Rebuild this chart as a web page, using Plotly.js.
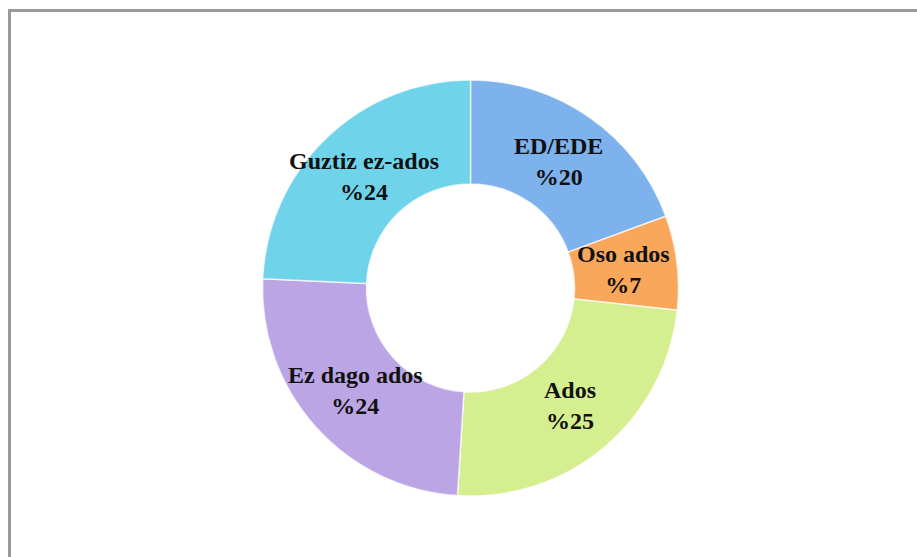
<!DOCTYPE html>
<html>
<head>
<meta charset="utf-8">
<script src="https://cdn.plot.ly/plotly-3.0.1.min.js"></script>
<style>html,body{margin:0;padding:0;background:#fff;}#chart{width:917px;height:557px;}</style>
</head>
<body>
<div id="chart"></div>
<script>
const categories = ["ED/EDE", "Oso ados", "Ados", "Ez dago ados", "Guztiz ez-ados"];
const values = [19.4, 7.3, 24.3, 24.7, 24.3];
const percentLabels = ["%20", "%7", "%25", "%24", "%24"];
const colors = ["#7db2ec", "#f9a75b", "#d5ee8f", "#bca5e4", "#6fd3ea"];

const W = 917, H = 557;
const cx = 470.5, cy = 288, R = 208, holeFrac = 0.5;
const domX = [(cx - R) / W, (cx + R) / W];
const domY = [(H - cy - R) / H, (H - cy + R) / H];

const trace = {
  type: "pie",
  labels: categories,
  values: values,
  hole: holeFrac,
  sort: false,
  direction: "clockwise",
  rotation: 0,
  textinfo: "none",
  hoverinfo: "label+percent",
  marker: { colors: colors, line: { color: "rgba(255,255,255,0.7)", width: 1.5 } },
  domain: { x: domX, y: domY },
  showlegend: false
};

// labels placed at the middle of each ring slice, computed from the data
const total = values.reduce((a, b) => a + b, 0);
const rMid = R * (1 + holeFrac) / 2 - 2;
let cum = 0;
const annotations = categories.map((c, i) => {
  const mid = (cum + values[i] / 2) / total * 2 * Math.PI;
  cum += values[i];
  const px = cx + rMid * Math.sin(mid);
  const py = cy - rMid * Math.cos(mid);
  return {
    xref: "paper", yref: "paper",
    x: px / W, y: 1 - py / H,
    text: "<b>" + c + "<br>" + percentLabels[i] + "</b>",
    showarrow: false,
    xanchor: "center", yanchor: "middle",
    font: { family: "Liberation Serif, DejaVu Serif, serif", size: 24, color: "#111" },
    align: "center"
  };
});

const layout = {
  width: W, height: H,
  margin: { l: 0, r: 0, t: 0, b: 0 },
  paper_bgcolor: "#ffffff",
  annotations: annotations,
  shapes: [{
    type: "rect", xref: "paper", yref: "paper",
    x0: 9.5 / W, x1: 1.02, y0: -0.02, y1: 1 - 10.5 / H,
    line: { color: "#999999", width: 3 }, fillcolor: "rgba(0,0,0,0)"
  }]
};

Plotly.newPlot("chart", [trace], layout, { displayModeBar: false, staticPlot: true });
</script>
</body>
</html>
